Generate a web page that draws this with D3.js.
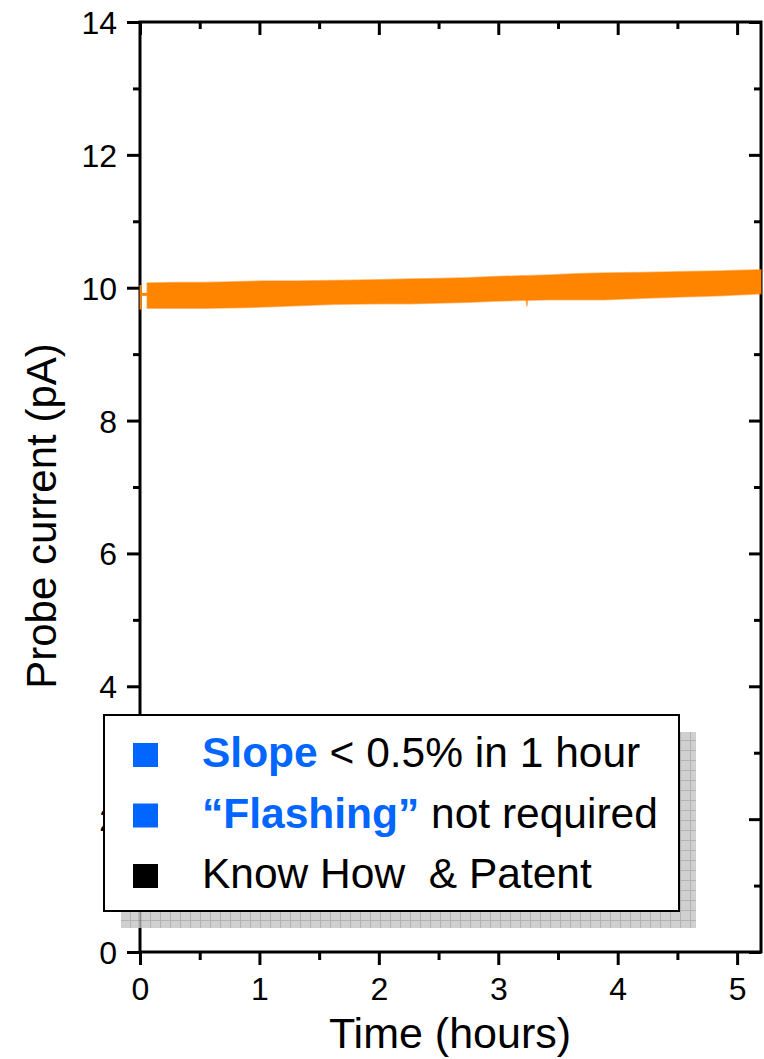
<!DOCTYPE html>
<html>

<head>
    <meta charset="UTF-8" />
    <title>Probe current vs time</title>
    <script src="https://d3js.org/d3.v7.min.js"></script>
    <style>
        body {
            margin: 0;
            background: white;
        }

        svg text {
            font-family: "Liberation Sans", Arial, sans-serif;
            fill: black;
        }

        .axis path {
            display: none;
        }

        .axis line {
            stroke: black;
            stroke-width: 3;
        }
    </style>
</head>

<body>
    <svg width="764" height="1059"></svg>

    <script>
        // band of the probe current trace (upper / lower edge)
        const bandTime = [0.06, 0.3, 0.54, 0.8, 1.02, 1.3, 1.63, 2.0, 2.25, 2.51, 2.75, 2.99, 3.2, 3.235, 3.24, 3.245, 3.43, 3.65, 3.88, 4.2, 4.51, 4.85, 5.2];
        const bandUpper = [10.07, 10.08, 10.08, 10.09, 10.10, 10.10, 10.11, 10.12, 10.13, 10.14, 10.15, 10.17, 10.18, 10.18, 10.18, 10.18, 10.19, 10.21, 10.22, 10.23, 10.24, 10.25, 10.27];
        const bandLower = [9.69, 9.69, 9.69, 9.70, 9.71, 9.73, 9.75, 9.76, 9.76, 9.77, 9.78, 9.80, 9.81, 9.81, 9.72, 9.81, 9.82, 9.82, 9.82, 9.84, 9.86, 9.88, 9.91];

        // first readings right at t = 0
        const startTime = [0.005, 0.005];
        const startValue = [10.04, 9.67];

        const xTicks = [0, 1, 2, 3, 4, 5];
        const yTicks = [0, 2, 4, 6, 8, 10, 12, 14];

        const legendItems = [
            { bold: "Slope", rest: " < 0.5% in 1 hour", color: "#0066ff" },
            { bold: "\u201cFlashing\u201d", rest: " not required", color: "#0066ff" },
            { bold: "", rest: "Know How  & Patent", color: "black" }
        ];

        var svg = d3.select("svg");
        var plotLeft = 140, plotRight = 761, plotTop = 22, plotBottom = 952;
        var orange = "#ff8400";

        var xScale = d3.scaleLinear().domain([0, 5.2]).range([plotLeft, plotRight]);
        var yScale = d3.scaleLinear().domain([0, 14]).range([plotBottom, plotTop]);

        // minor ticks (half steps)
        var xMinor = d3.range(0.5, 5.2, 1);
        var yMinor = d3.range(1, 14, 2);

        function tickAxis(axis, pos, size, values, labels) {
            var g = svg.append("g").attr("class", "axis").attr("transform", pos)
                .call(axis.tickValues(values).tickSize(size).tickPadding(8)
                    .tickFormat(labels ? d3.format("d") : ""));
            g.selectAll("text").style("font-size", "32px");
            return g;
        }

        // bottom / left outward, top / right inward
        tickAxis(d3.axisBottom(xScale), "translate(0," + plotBottom + ")", 13, xTicks, true)
            .selectAll("text").attr("dy", "0.85em");
        tickAxis(d3.axisBottom(xScale), "translate(0," + plotBottom + ")", 8, xMinor, false);
        tickAxis(d3.axisLeft(yScale), "translate(" + plotLeft + ",0)", 13, yTicks, true)
            .selectAll("text").attr("dy", "0.36em").attr("x", -23);
        tickAxis(d3.axisLeft(yScale), "translate(" + plotLeft + ",0)", 7, yMinor, false);
        tickAxis(d3.axisTop(xScale), "translate(0," + plotTop + ")", -13, xTicks, false);
        tickAxis(d3.axisTop(xScale), "translate(0," + plotTop + ")", -7, xMinor, false);
        tickAxis(d3.axisRight(yScale), "translate(" + plotRight + ",0)", -12, yTicks, false);
        tickAxis(d3.axisRight(yScale), "translate(" + plotRight + ",0)", -7, yMinor, false);

        // frame
        svg.append("rect")
            .attr("x", plotLeft).attr("y", plotTop)
            .attr("width", plotRight - plotLeft).attr("height", plotBottom - plotTop)
            .attr("fill", "none").attr("stroke", "black").attr("stroke-width", 3);

        // trace
        var band = bandTime.map((t, i) => ({ t: t, hi: bandUpper[i], lo: bandLower[i] }));
        var area = d3.area()
            .x(d => xScale(d.t))
            .y0(d => yScale(d.lo))
            .y1(d => yScale(d.hi));

        svg.append("path")
            .datum(band)
            .attr("d", area)
            .attr("fill", orange)
            .attr("stroke", orange)
            .attr("stroke-opacity", 0.5)
            .attr("stroke-width", 1.5);

        svg.append("path")
            .datum(startTime.map((t, i) => [t, startValue[i]]))
            .attr("d", d3.line().x(d => xScale(d[0])).y(d => yScale(d[1])))
            .attr("stroke", orange).attr("stroke-width", 2).attr("fill", "none");
        svg.append("path")
            .datum([[0.005, 9.9], [0.06, 9.9]])
            .attr("d", d3.line().x(d => xScale(d[0])).y(d => yScale(d[1])))
            .attr("stroke", orange).attr("stroke-width", 3).attr("fill", "none");

        // axis titles
        svg.append("text")
            .attr("x", 450).attr("y", 1048)
            .attr("text-anchor", "middle")
            .style("font-size", "43px")
            .text("Time (hours)");

        svg.append("text")
            .attr("transform", "translate(56,516) rotate(-90)")
            .attr("text-anchor", "middle")
            .style("font-size", "42px")
            .text("Probe current (pA)");

        // legend box with hatched shadow
        var defs = svg.append("defs");
        var pat = defs.append("pattern")
            .attr("id", "hatch").attr("patternUnits", "userSpaceOnUse")
            .attr("width", 10).attr("height", 10);
        pat.append("rect").attr("width", 10).attr("height", 10).attr("fill", "#c8c8c8");
        pat.append("path").attr("d", "M0,0.5H10M0.5,0V10")
            .attr("stroke", "#a4a4a4").attr("stroke-width", 1);

        var lx = 104, ly = 715, lw = 575, lh = 196;
        svg.append("rect")
            .attr("x", lx + 17).attr("y", ly + 17)
            .attr("width", lw).attr("height", lh)
            .attr("fill", "url(#hatch)").attr("opacity", 0.85);
        svg.append("rect")
            .attr("x", lx).attr("y", ly)
            .attr("width", lw).attr("height", lh)
            .attr("fill", "white").attr("stroke", "black").attr("stroke-width", 2);

        var rows = svg.append("g").selectAll("g")
            .data(legendItems).enter().append("g")
            .attr("transform", (d, i) => "translate(0," + (767 + i * 60.5) + ")");

        rows.append("rect")
            .attr("x", 133).attr("y", -24)
            .attr("width", 25).attr("height", 24)
            .attr("fill", d => d.color);

        var txt = rows.append("text")
            .attr("x", 202)
            .attr("xml:space", "preserve")
            .style("white-space", "pre")
            .style("font-size", "42.5px");
        txt.append("tspan")
            .style("font-weight", "bold")
            .style("fill", d => d.color)
            .text(d => d.bold);
        txt.append("tspan")
            .text(d => d.rest);
    </script>
</body>

</html>
